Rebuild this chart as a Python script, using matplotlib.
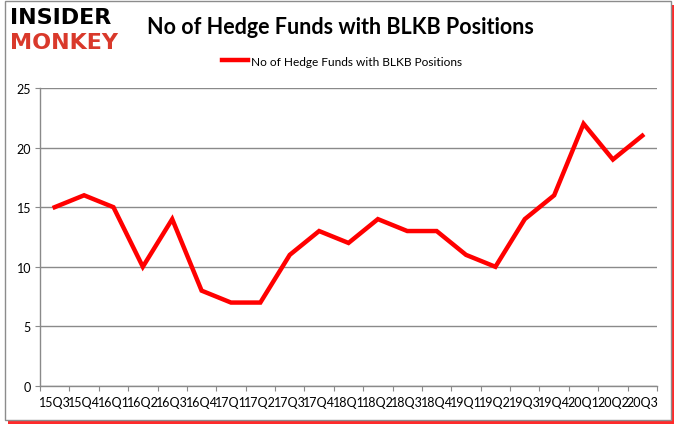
import matplotlib
matplotlib.use("Agg")
import matplotlib.pyplot as plt
from matplotlib.patches import Rectangle

# quarterly hedge fund counts
quarters = ["15Q3", "15Q4", "16Q1", "16Q2", "16Q3", "16Q4", "17Q1", "17Q2",
            "17Q3", "17Q4", "18Q1", "18Q2", "18Q3", "18Q4", "19Q1", "19Q2",
            "19Q3", "19Q4", "20Q1", "20Q2", "20Q3"]
hedge_funds = [15, 16, 15, 10, 14, 8, 7, 7, 11, 13, 12, 14, 13, 13, 11, 10,
               14, 16, 22, 19, 21]
y_ticks = [0, 5, 10, 15, 20, 25]
series_name = "No of Hedge Funds with BLKB Positions"

W, H = 678, 431
plt.rcParams["font.family"] = ["Lato", "DejaVu Sans"]

fig = plt.figure(figsize=(W / 100, H / 100), dpi=100)
fig.patch.set_facecolor("white")

def px(x, y):
    return x / W, 1 - y / H

# frame with red drop shadow
x0, y0 = px(5, 421)
fw, fh = 666 / W, 419 / H
fig.patches.append(Rectangle((x0 + 3 / W, y0 - 4 / H), fw, fh, transform=fig.transFigure,
                             facecolor="#ff2a2a", edgecolor="none", zorder=0))
fig.patches.append(Rectangle((x0, y0), fw, fh, transform=fig.transFigure,
                             facecolor="white", edgecolor="#8c8c8c", linewidth=1, zorder=1))

l, b = px(40, 387)
r, t = px(657, 89)
ax = fig.add_axes([l, b, r - l, t - b])
ax.set_facecolor("none")
ax.set_zorder(3)

xs = list(range(len(quarters)))
ax.plot(xs, hedge_funds, color="#ff0000", linewidth=3.2, solid_joinstyle="miter",
        label=series_name, zorder=3)

ax.set_xlim(-0.5, len(quarters) - 0.5)
ax.set_ylim(0, 25)
ax.set_yticks(y_ticks)
ax.yaxis.grid(True, color="#8a8a8a", linewidth=1)
ax.set_axisbelow(True)

ax.set_xticks([i - 0.5 for i in range(len(quarters) + 1)])
ax.set_xticklabels([])
ax.set_xticks(xs, minor=True)
ax.set_xticklabels(quarters, minor=True)
ax.tick_params(axis="x", which="major", direction="out", length=3.5, color="#8a8a8a")
ax.tick_params(axis="x", which="minor", length=0, pad=7, labelsize=9)
ax.tick_params(axis="y", direction="out", length=3.5, color="#8a8a8a", pad=3, labelsize=9)

for s in ["top", "right"]:
    ax.spines[s].set_visible(False)
for s in ["left", "bottom"]:
    ax.spines[s].set_color("#8a8a8a")
    ax.spines[s].set_linewidth(1)

# title and legend
tx, ty = px(340, 27)
fig.text(tx, ty, series_name, ha="center", va="center", fontsize=15.5, fontweight="bold",
         zorder=4)
lx, ly = px(342, 62)
ax.legend(loc="center", bbox_to_anchor=(lx, ly), bbox_transform=fig.transFigure,
          frameon=False, fontsize=8.6, handlelength=2.2, handletextpad=0.2)

# logo
ix, iy = px(10, 18)
fig.text(ix, iy, "INSIDER", ha="left", va="center", fontsize=16, fontweight="heavy",
         family="DejaVu Sans", color="black", zorder=4)
mx, my = px(10, 43)
fig.text(mx, my, "MONKEY", ha="left", va="center", fontsize=16, fontweight="heavy",
         family="DejaVu Sans", color="#d9392b", zorder=4)

fig.savefig("out.png", dpi=100)
